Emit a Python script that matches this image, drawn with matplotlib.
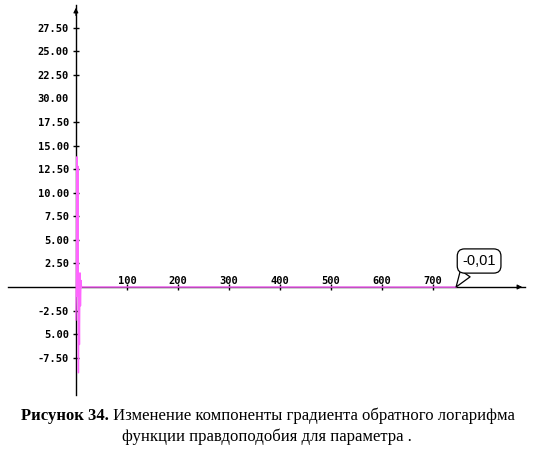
import matplotlib.pyplot as plt

# values
iters = [0, 1, 2, 3, 4, 5, 6, 7, 8, 9, 10, 11, 12, 745]
grad = [-3.5, 1.0, 13.8, -1.0, 12.8, -9.1, 0.5, -6.1, 1.5, -2.0, 0.7, 0.0, 0.0, -0.01]

ytick_vals = [-7.5, -5.0, -2.5, 2.5, 5.0, 7.5, 10.0, 12.5, 15.0, 17.5, 20.0, 22.5, 25.0, 27.5]
ytick_labels = ['-7.50', '5.00', '-2.50', '2.50', '5.00', '7.50', '10.00', '12.50',
                '15.00', '17.50', '30.00', '22.50', '25.00', '27.50']
xtick_vals = [100, 200, 300, 400, 500, 600, 700]
xtick_labels = ['100', '200', '300', '400', '500', '600', '700']

last_label = '-0,01'
caption_bold = 'Рисунок 34.'
caption_rest = ' Изменение компоненты градиента обратного логарифма'
caption_line2 = 'функции правдоподобия для параметра .'

W, H = 534, 471
fig = plt.figure(figsize=(W / 100, H / 100), dpi=100)
ax = fig.add_axes([8 / W, (H - 395) / H, 517 / W, 390 / H])
ax.set_xlim(-133, 880)
ax.set_ylim(-11.45, 29.9)
ax.patch.set_alpha(0)

ax.plot(iters, grad, color='#ff66ff', lw=1.0, zorder=3, clip_on=False)

for s in ['top', 'right']:
    ax.spines[s].set_visible(False)
ax.spines['left'].set_position(('data', 0))
ax.spines['bottom'].set_position(('data', 0))
ax.spines['left'].set_linewidth(1.0)
ax.spines['bottom'].set_linewidth(1.0)

# arrow heads on the axes
ax.annotate('', xy=(880, 0), xytext=(860, 0),
            arrowprops=dict(arrowstyle='-|>', color='black', lw=0.8, mutation_scale=7))
ax.annotate('', xy=(0, 29.9), xytext=(0, 28.5),
            arrowprops=dict(arrowstyle='-|>', color='black', lw=0.8, mutation_scale=7))

tick_font = dict(family='DejaVu Sans Mono', weight='bold', size=7.5)
ax.set_yticks(ytick_vals)
ax.set_yticklabels(ytick_labels, fontdict=tick_font)
ax.set_xticks(xtick_vals)
ax.set_xticklabels(xtick_labels, fontdict=tick_font)
ax.tick_params(axis='y', direction='inout', length=4, width=1, pad=3)
ax.tick_params(axis='x', direction='inout', length=5, width=1, pad=-10.5)
ax.yaxis.get_major_ticks()[ytick_vals.index(20.0)].tick1line.set_visible(False)

ax.annotate(last_label, xy=(iters[-1], 0), xytext=(23, 26), textcoords='offset pixels',
            ha='center', va='center', fontsize=10.5, family='Liberation Sans',
            bbox=dict(boxstyle='round,pad=0.35,rounding_size=0.5', fc='white', ec='black', lw=0.9),
            arrowprops=dict(arrowstyle='wedge,tail_width=0.8', fc='white', ec='black', lw=0.9,
                            connectionstyle='arc3', relpos=(0.2, 0.0), shrinkA=0, shrinkB=0),
            zorder=5)

# caption, font size fitted so that line 1 spans about 490 px
cap_font = 'Liberation Serif'
size = 12
t1 = fig.text(0, 0, caption_bold + caption_rest, family=cap_font, size=size)
fig.canvas.draw()
w = t1.get_window_extent().width
t1.remove()
size = size * 488 / w

t1 = fig.text(21 / W, 1 - 416 / H, caption_bold, family=cap_font, weight='bold',
              size=size, ha='left', va='center')
fig.canvas.draw()
ax.annotate(caption_rest, xy=(1, 0), xycoords=t1, ha='left', va='bottom',
            family=cap_font, size=size, annotation_clip=False)
fig.text(267 / W, 1 - 437 / H, caption_line2, family=cap_font, size=size,
         ha='center', va='center')

fig.savefig('out.png', dpi=100)
